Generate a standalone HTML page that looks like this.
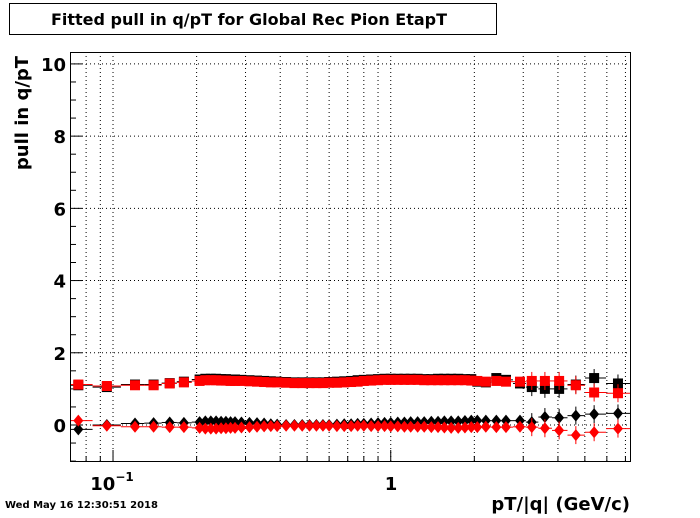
<!DOCTYPE html>
<html><head><meta charset="utf-8"><style>
body{margin:0;background:#fff;width:700px;height:514px;overflow:hidden;font-family:"DejaVu Sans","Liberation Sans",sans-serif}
</style></head><body>
<svg width="700" height="514" xmlns="http://www.w3.org/2000/svg" font-family="DejaVu Sans, Liberation Sans, sans-serif" font-weight="bold">
<rect x="0" y="0" width="700" height="514" fill="#fff"/>
<g>
<rect x="9.5" y="3.5" width="487" height="31" fill="#fff" stroke="#000"/>
<text x="249" y="25" text-anchor="middle" font-size="16">Fitted pull in q/pT for Global Rec Pion EtapT</text>
</g>
<g id="grid"></g>
<g id="axes"></g>
<g id="marks"></g>
<rect x="70.5" y="52.5" width="560" height="409" fill="none" stroke="#000"/>
<text x="28" y="113" transform="rotate(-90 28 113)" text-anchor="middle" font-size="18">pull in q/pT</text>
<text x="630" y="510" text-anchor="end" font-size="18">pT/|q| (GeV/c)</text>
<text x="5" y="508" font-size="10">Wed May 16 12:30:51 2018</text>
<text x="112" y="490" text-anchor="middle" font-size="18">10<tspan font-size="12" dy="-9">−1</tspan></text>
<text x="391" y="490" text-anchor="middle" font-size="18">1</text>
</svg>
<script>
const xs   =[0.075,0.095,0.12,0.14,0.16,0.18,
0.205,0.215,0.225,0.235,0.245,0.255,0.265,0.275,0.29,0.31,
0.33,0.35,0.37,0.39,0.42,0.45,0.48,0.51,0.54,0.57,
0.6,0.64,0.68,0.72,0.76,0.8,0.85,0.9,0.95,1.0,
1.06,1.12,1.18,1.25,1.32,1.4,1.48,1.56,1.65,1.75,
1.85,1.95,2.05,2.2,2.4,2.6,
2.92,3.22,3.59,4.04,4.64,5.4,6.58];
const blackSq=[1.1,1.05,1.12,1.12,1.16,1.2,
1.26,1.28,1.28,1.28,1.27,1.27,1.26,1.26,1.25,1.24,
1.23,1.22,1.21,1.2,1.19,1.18,1.18,1.18,1.18,1.18,
1.19,1.2,1.21,1.22,1.24,1.25,1.26,1.27,1.28,1.28,
1.28,1.28,1.28,1.28,1.27,1.27,1.28,1.28,1.28,1.28,
1.27,1.27,1.2,1.18,1.3,1.25,
1.15,1.05,1.0,1.0,1.12,1.3,1.15];
const redSq  =[1.12,1.08,1.1,1.1,1.15,1.18,
1.22,1.24,1.24,1.24,1.23,1.23,1.22,1.22,1.22,1.21,
1.2,1.19,1.18,1.18,1.17,1.16,1.16,1.16,1.16,1.16,
1.17,1.17,1.18,1.19,1.2,1.22,1.23,1.24,1.25,1.25,
1.25,1.25,1.25,1.25,1.24,1.24,1.24,1.24,1.24,1.24,
1.24,1.23,1.22,1.2,1.22,1.2,
1.2,1.22,1.22,1.22,1.1,0.9,0.88];
const blackDi=[-0.12,0,0.04,0.05,0.07,0.06,
0.08,0.1,0.1,0.1,0.09,0.09,0.08,0.08,0.07,0.06,
0.05,0.04,0.02,0.01,0,0,0,0,0,0,
0,0.01,0.02,0.02,0.03,0.03,0.04,0.05,0.06,0.06,
0.07,0.07,0.08,0.08,0.08,0.09,0.09,0.1,0.1,0.1,
0.11,0.12,0.12,0.12,0.12,0.12,
0.12,0.08,0.22,0.2,0.26,0.3,0.32];
const redDi  =[0.12,-0.02,-0.05,-0.05,-0.06,-0.06,
-0.08,-0.1,-0.1,-0.1,-0.09,-0.09,-0.08,-0.08,-0.07,-0.06,
-0.05,-0.04,-0.03,-0.03,-0.02,-0.02,-0.02,-0.02,-0.02,-0.02,
-0.02,-0.03,-0.03,-0.03,-0.02,-0.02,-0.03,-0.03,-0.03,-0.04,
-0.04,-0.05,-0.05,-0.05,-0.05,-0.06,-0.06,-0.07,-0.08,-0.08,
-0.07,-0.06,-0.06,-0.05,-0.06,-0.06,
-0.05,-0.06,-0.09,-0.15,-0.28,-0.2,-0.1];
const yTicks=[0,2,4,6,8,10];
const xGridVals=[0.08,0.09,0.1,0.2,0.3,0.4,0.5,0.6,0.7,0.8,0.9,1,2,3,4,5,6,7];

const X0=70,X1=630,Y0=52,Y1=462;
const LMIN=Math.log10(0.07),LMAX=Math.log10(7.27);
function sx(v){return X0+(Math.log10(v)-LMIN)/(LMAX-LMIN)*(X1-X0);}
const YMIN=-1.025,YMAX=10.33;
function sy(v){return Y1-(v-YMIN)/(YMAX-YMIN)*(Y1-Y0);}
const NS="http://www.w3.org/2000/svg";
function mk(tag,attrs,parent){const e=document.createElementNS(NS,tag);for(const k in attrs)e.setAttribute(k,attrs[k]);parent.appendChild(e);return e;}
const grid=document.getElementById('grid'),axes=document.getElementById('axes'),marks=document.getElementById('marks');

xGridVals.forEach(v=>{
  const x=sx(v);
  const g=mk('line',{x1:x,x2:x,y1:Y0,y2:Y1,stroke:'#000','stroke-dasharray':'1,3'},grid);
  
  
  const major=(v===0.1||v===1);
  const t=mk('line',{x1:x,x2:x,y1:Y1,y2:Y1-(major?12:6),stroke:'#000'},axes);
  
  
});
yTicks.forEach(v=>{
  const y=sy(v);
  const g=mk('line',{x1:X0,x2:X1,y1:y,y2:y,stroke:'#000','stroke-dasharray':'1,3'},grid);
  
  
  const lb=mk('text',{x:66,y:y+7,'text-anchor':'end','font-size':18},axes);
  lb.textContent=v;
  
  
});
for(let v=-1;v<=10.01;v+=0.5){
  const y=sy(v);const major=Math.abs(v%2)<1e-6;
  const t=mk('line',{x1:X0,x2:X0+(major?12:6),y1:y,y2:y,stroke:'#000'},axes);
  
  
}

function series(vals,color,shape,name){
  const g=mk('g',{},marks);
  
  
  vals.forEach((v,i)=>{
    const x=sx(xs[i]),y=sy(v);
    const xl=i>0?sx(Math.sqrt(xs[i]*xs[i-1])):x-8;
    const xr=i<xs.length-1?sx(Math.sqrt(xs[i]*xs[i+1])):x+12;
    const e=mk('line',{x1:xl,x2:xr,y1:y,y2:y,stroke:color,'stroke-width':1},g);
    
    
    if(xs[i]>3){const ev=mk('line',{x1:x,x2:x,y1:y-9,y2:y+9,stroke:color},g);
      
      }
    let m;
    if(shape==='sq') m=mk('rect',{x:x-5,y:y-5,width:10,height:10,fill:color},g);
    else m=mk('polygon',{points:`${x},${y-6} ${x+5},${y} ${x},${y+6} ${x-5},${y}`,fill:color},g);
    
    
  });
}
series(blackSq,'#000','sq','black-square-series');
series(blackDi,'#000','di','black-diamond-series');
series(redSq,'#f00','sq','red-square-series');
series(redDi,'#f00','di','red-diamond-series');
</script>
</body></html>
